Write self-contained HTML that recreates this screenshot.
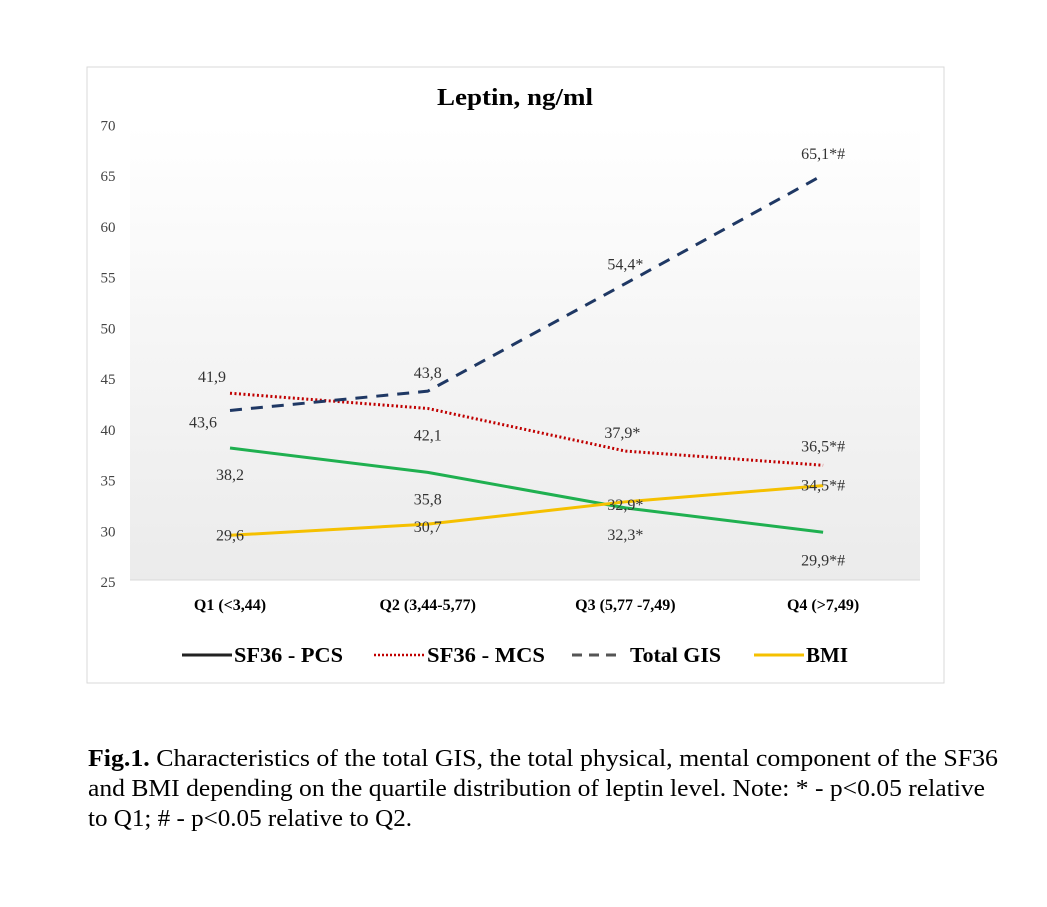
<!DOCTYPE html>
<html><head><meta charset="utf-8"><style>
body{margin:0;background:#fff;font-family:"Liberation Serif",serif;}
svg text{font-family:"Liberation Serif",serif;}
</style></head><body>
<svg width="1047" height="902">
<defs><linearGradient id="bg" x1="0" y1="0" x2="0" y2="1"><stop offset="0" stop-color="#ffffff"/><stop offset="1" stop-color="#ebebeb"/></linearGradient></defs>
<rect x="87" y="67" width="857" height="616" fill="#fff" stroke="#d9d9d9"/>
<rect x="130" y="125" width="790" height="455" fill="url(#bg)"/>
<line x1="130" y1="580" x2="920" y2="580" stroke="#d9d9d9"/>
<text x="437" y="105" font-size="24" font-weight="bold" textLength="156" lengthAdjust="spacingAndGlyphs">Leptin, ng/ml</text>
<g id="yticks"></g><g id="xticks"></g><g id="lines"></g><g id="labels"></g>
<g>
<line x1="182" y1="655" x2="232" y2="655" stroke="#222" stroke-width="3"/>
<text x="234" y="662" font-size="21" font-weight="bold" textLength="109" lengthAdjust="spacingAndGlyphs">SF36 - PCS</text>
<line x1="374" y1="655" x2="424" y2="655" stroke="#c00000" stroke-width="2.5" stroke-dasharray="2,2"/>
<text x="427" y="662" font-size="21" font-weight="bold" textLength="118" lengthAdjust="spacingAndGlyphs">SF36 - MCS</text>
<line x1="572" y1="655" x2="622" y2="655" stroke="#555" stroke-width="3" stroke-dasharray="10,7"/>
<text x="630" y="662" font-size="21" font-weight="bold" textLength="91" lengthAdjust="spacingAndGlyphs">Total GIS</text>
<line x1="754" y1="655" x2="804" y2="655" stroke="#f5c000" stroke-width="3"/>
<text x="806" y="662" font-size="21" font-weight="bold" textLength="42" lengthAdjust="spacingAndGlyphs">BMI</text>
</g>
<text x="88" y="766" font-size="24" textLength="910" lengthAdjust="spacingAndGlyphs"><tspan font-weight="bold">Fig.1.</tspan> Characteristics of the total GIS, the total physical, mental component of the SF36</text>
<text x="88" y="796" font-size="24" textLength="897" lengthAdjust="spacingAndGlyphs">and BMI depending on the quartile distribution of leptin level. Note: * - p&lt;0.05 relative</text>
<text x="88" y="826" font-size="24" textLength="324" lengthAdjust="spacingAndGlyphs">to Q1; # - p&lt;0.05 relative to Q2.</text>
</svg>
<script>
const categories=["Q1 (<3,44)","Q2 (3,44-5,77)","Q3 (5,77 -7,49)","Q4 (>7,49)"];
const yTicks=[25,30,35,40,45,50,55,60,65,70];
const pcs=[38.2,35.8,32.3,29.9];
const mcs=[43.6,42.1,37.9,36.5];
const gis=[41.9,43.8,54.4,65.1];
const bmi=[29.6,30.7,32.9,34.5];
const pcsLabels=["38,2","35,8","32,3*","29,9*#"];
const mcsLabels=["41,9","42,1","37,9*","36,5*#"];
const gisLabels=["43,6","43,8","54,4*","65,1*#"];
const bmiLabels=["29,6","30,7","32,9*","34,5*#"];
const NS="http://www.w3.org/2000/svg";
function y(v){return 582-(v-25)*10.15;}
function x(i){return 230+i*197.7;}
function mk(tag,attrs,parent){const e=document.createElementNS(NS,tag);for(const k in attrs)e.setAttribute(k,attrs[k]);document.getElementById(parent).appendChild(e);return e;}
yTicks.forEach(t=>{const e=mk('text',{x:108,y:y(t)+5,'text-anchor':'middle','font-size':15,fill:'#444'},'yticks');e.textContent=t;

});
categories.forEach((c,i)=>{const e=mk('text',{x:x(i),y:610,'text-anchor':'middle','font-size':16,'font-weight':'bold'},'xticks');e.textContent=c;

});
function line(vals,stroke,dash,name){const p=mk('polyline',{points:vals.map((v,i)=>x(i)+','+y(v)).join(' '),fill:'none',stroke:stroke,'stroke-width':3,'stroke-dasharray':dash},'lines');

}
line(pcs,'#1fb050','none','line-pcs');
line(mcs,'#c00000','2,2.5','line-mcs');
line(gis,'#1f3864','12,9','line-gis');
line(bmi,'#f5c000','none','line-bmi');
function labels(vals,texts,dy,dx){vals.forEach((v,i)=>{const e=mk('text',{x:x(i)+(dx[i]||0),y:y(v)+dy[i],'text-anchor':'middle','font-size':16,fill:'#333'},'labels');e.textContent=texts[i];

});}
labels(pcs,pcsLabels,[32,32,32,33],[0,0,0,0]);
labels(mcs,mcsLabels,[-11,32,-13,-14],[-18,0,-3,0]);
labels(gis,gisLabels,[17,-13,-14,-16],[-27,0,0,0]);
labels(bmi,bmiLabels,[5,8,8,5],[0,0,0,0]);
</script>
</body></html>
